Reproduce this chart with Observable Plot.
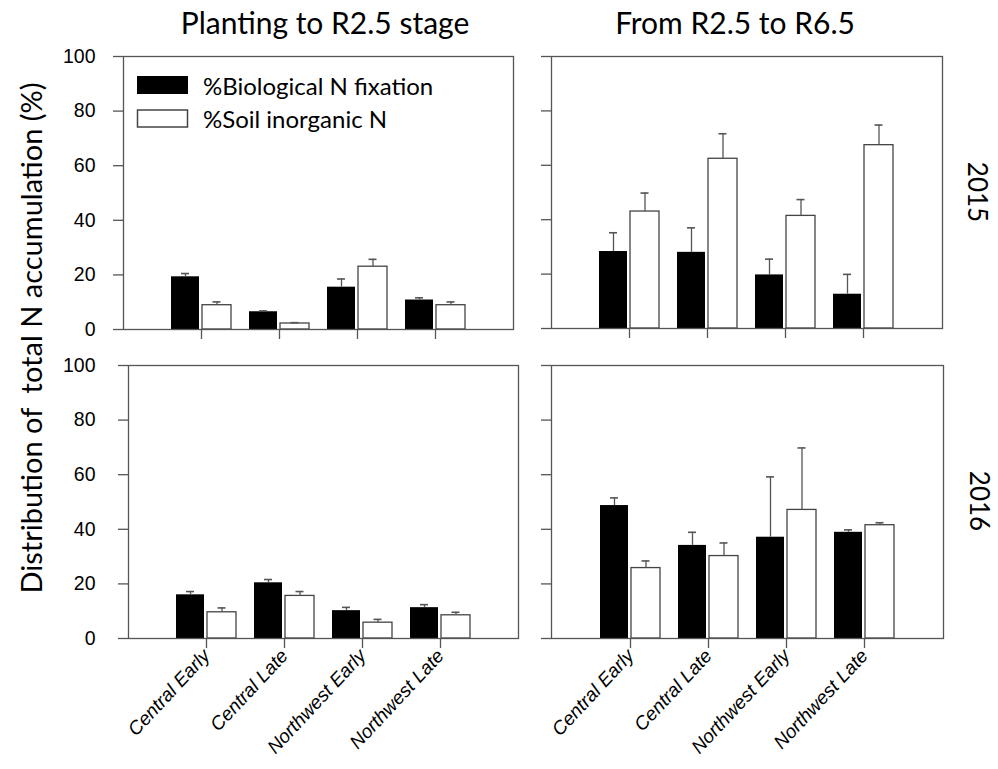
<!DOCTYPE html>
<html><head><meta charset="utf-8">
<script src="https://cdn.jsdelivr.net/npm/d3@7"></script>
<script src="https://cdn.jsdelivr.net/npm/@observablehq/plot@0.6"></script>
<style>
body{margin:0;background:#fff;}
#chart{position:relative;width:998px;height:769px;overflow:hidden;background:#fff;}
#chart svg{overflow:visible;}
.panel{position:absolute;}
</style></head><body><div id="chart"></div>
<script>
// ---- data ----
const categories = ["Central Early", "Central Late", "Northwest Early", "Northwest Late"];
const seriesNames = ["%Biological N fixation", "%Soil inorganic N"];
const periods = ["Planting to R2.5 stage", "From R2.5 to R6.5"];
const years = ["2015", "2016"];
const yTicks = [0, 20, 40, 60, 80, 100];
const yTitle = "Distribution of  total N accumulation (%)";

// 2015, planting to R2.5
const bnf2015A = [19.3, 6.5, 15.5, 10.8];
const bnf2015AErr = [1.2, 0.3, 3.0, 0.8];
const soil2015A = [8.9, 2.2, 23.0, 8.9];
const soil2015AErr = [1.2, 0.3, 2.7, 1.2];
// 2015, R2.5 to R6.5
const bnf2015B = [28.3, 28.0, 19.7, 12.6];
const bnf2015BErr = [6.9, 9.0, 5.8, 7.3];
const soil2015B = [43.0, 62.4, 41.4, 67.4];
const soil2015BErr = [6.8, 9.2, 6.0, 7.4];
// 2016, planting to R2.5
const bnf2016A = [16.0, 20.4, 10.2, 11.3];
const bnf2016AErr = [1.2, 1.2, 1.2, 1.1];
const soil2016A = [9.6, 15.6, 5.8, 8.5];
const soil2016AErr = [1.6, 1.6, 1.2, 1.1];
// 2016, R2.5 to R6.5
const bnf2016B = [48.7, 34.1, 37.1, 38.9];
const bnf2016BErr = [2.8, 4.8, 22.1, 0.9];
const soil2016B = [25.8, 30.2, 47.1, 41.5];
const soil2016BErr = [2.6, 4.8, 22.7, 0.9];

const chart = document.getElementById("chart");
const AX = "#555";

function rows(vals, errs, series) {
  return categories.map((c, i) => ({category: c, series, value: vals[i], err: errs[i]}));
}

function panel(o) {
  const mL = 80, mR = 4, mT = 4, mB = o.xLabels ? 150 : 16;
  const black = rows(o.bnf, o.bnfErr, seriesNames[0]);
  const white = rows(o.soil, o.soilErr, seriesNames[1]);
  const p = Plot.plot({
    width: o.width + mL + mR,
    height: o.height + mT + mB,
    marginLeft: mL, marginRight: mR, marginTop: mT, marginBottom: mB,
    style: {fontFamily: "'Liberation Sans', Arial, sans-serif", fontSize: "19px", color: "#000", background: "transparent", overflow: "visible"},
    x: {type: "band", domain: categories, paddingInner: 0.23, paddingOuter: 0.615, axis: null},
    y: {domain: [0, 100], axis: null},
    marks: [
      Plot.barY(black, {x: "category", y: "value", fill: "#000", insetLeft: 0, insetRight: 32}),
      Plot.barY(white, {x: "category", y: "value", fill: "#fff", stroke: "#444", strokeWidth: 1.3, insetLeft: 31, insetRight: 0}),
      Plot.ruleX(black, {x: "category", y1: "value", y2: d => d.value + d.err, dx: -16, stroke: AX, strokeWidth: 1.3}),
      Plot.ruleX(white, {x: "category", y1: "value", y2: d => d.value + d.err, dx: 15.5, stroke: AX, strokeWidth: 1.3}),
      Plot.tickY(black, {x: "category", y: d => d.value + d.err, insetLeft: 10, insetRight: 42, stroke: AX, strokeWidth: 1.6}),
      Plot.tickY(white, {x: "category", y: d => d.value + d.err, insetLeft: 41.5, insetRight: 10.5, stroke: AX, strokeWidth: 1.6}),
      Plot.frame({stroke: AX, strokeWidth: 1.3}),
      Plot.axisY({ticks: yTicks, tickSize: 10, tickPadding: o.yPad, tickFormat: o.yLabels ? d => String(d) : () => "", label: null, stroke: AX, strokeWidth: 1.3, fill: "#000", fontSize: 19.5}),
      Plot.axisX({tickSize: 10, tickRotate: o.xLabels ? -47 : 0, tickPadding: 4, tickFormat: o.xLabels ? d => d : () => "", label: null, stroke: AX, strokeWidth: 1.3, fill: "#000", fontSize: 19, fontStyle: "italic"})
    ]
  });
  p.classList.add("panel");
  p.style.left = (o.left - mL) + "px";
  p.style.top = (o.top - mT) + "px";
  chart.appendChild(p);
}

panel({left: 123, top: 56, width: 390, height: 273, bnf: bnf2015A, bnfErr: bnf2015AErr, soil: soil2015A, soilErr: soil2015AErr, yLabels: true, yPad: 18, xLabels: false});
panel({left: 551, top: 56, width: 391, height: 272, bnf: bnf2015B, bnfErr: bnf2015BErr, soil: soil2015B, soilErr: soil2015BErr, yLabels: false, yPad: 18, xLabels: false});
panel({left: 128, top: 365, width: 390, height: 273, bnf: bnf2016A, bnfErr: bnf2016AErr, soil: soil2016A, soilErr: soil2016AErr, yLabels: true, yPad: 23, xLabels: true});
panel({left: 551, top: 365, width: 392, height: 273, bnf: bnf2016B, bnfErr: bnf2016BErr, soil: soil2016B, soilErr: soil2016BErr, yLabels: false, yPad: 18, xLabels: true});

// ---- text overlay: titles, legend, year labels, y title ----
const ov = d3.select("#chart").append("svg")
  .attr("width", 998).attr("height", 769)
  .style("position", "absolute").style("left", "0px").style("top", "0px")
  .style("pointer-events", "none")
  .style("font-family", "Lato, 'Open Sans', sans-serif");

ov.append("text").attr("x", 325).attr("y", 34).attr("text-anchor", "middle").attr("font-size", 30).text(periods[0]);
ov.append("text").attr("x", 735).attr("y", 34).attr("text-anchor", "middle").attr("font-size", 30).text(periods[1]);

ov.append("text").attr("transform", "translate(978,192) rotate(90)").attr("text-anchor", "middle").attr("dominant-baseline", "central").attr("font-size", 26).text(years[0]);
ov.append("text").attr("transform", "translate(980,501) rotate(90)").attr("text-anchor", "middle").attr("dominant-baseline", "central").attr("font-size", 26).text(years[1]);

ov.append("text").attr("transform", "translate(30,338) rotate(-90)").attr("text-anchor", "middle").attr("dominant-baseline", "central").attr("font-size", 29).style("white-space", "pre").text(yTitle);

// legend
ov.append("rect").attr("x", 137).attr("y", 76).attr("width", 51).attr("height", 18).attr("fill", "#000");
ov.append("text").attr("x", 203).attr("y", 95).attr("font-size", 24).text(seriesNames[0]);
ov.append("rect").attr("x", 137.5).attr("y", 110).attr("width", 50).attr("height", 17).attr("fill", "#fff").attr("stroke", "#444").attr("stroke-width", 1.5);
ov.append("text").attr("x", 203).attr("y", 128).attr("font-size", 24).text(seriesNames[1]);
</script></body></html>
